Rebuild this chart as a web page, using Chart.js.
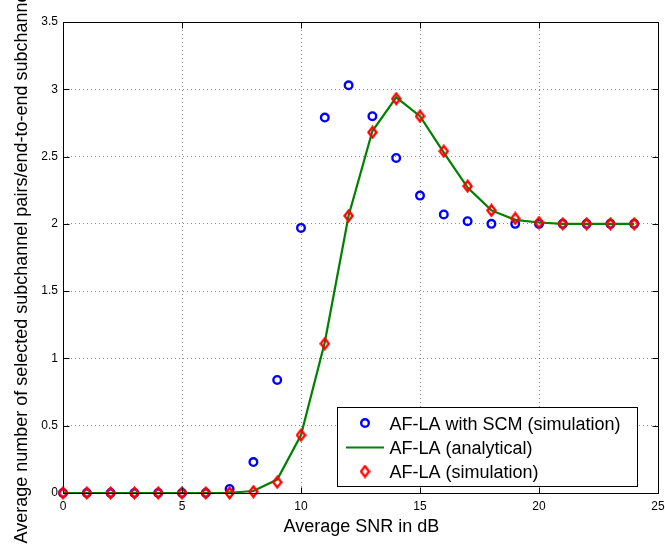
<!DOCTYPE html>
<html><head><meta charset="utf-8">
<script src="https://cdn.jsdelivr.net/npm/chart.js@4/dist/chart.umd.min.js"></script>
<style>html,body{margin:0;padding:0;background:#fff;} #wrap{width:665px;height:550px;position:relative;}</style>
</head><body><div id="wrap"><canvas id="c" width="665" height="550"></canvas></div>
<script>
// ---- data ----
const snrDb = [0,1,2,3,4,5,6,7,8,9,10,11,12,13,14,15,16,17,18,19,20,21,22,23,24];
const scmSim = [0,0,0,0,0,0,0,0.03,0.23,0.84,1.97,2.79,3.03,2.80,2.49,2.21,2.07,2.02,2.00,2.00,2.00,2.00,2.00,2.00,2.00];
const laAnalytical = [0,0,0,0,0,0,0,0.002,0.015,0.10,0.43,1.12,2.06,2.69,2.94,2.80,2.53,2.27,2.10,2.03,2.01,2.00,2.00,2.00,2.00];
const laSim = [0,0,0,0,0,0,0,0,0.01,0.08,0.43,1.11,2.06,2.68,2.93,2.80,2.54,2.28,2.10,2.04,2.01,2.00,2.00,2.00,2.00];
const xTickValues = [0,5,10,15,20,25];
const yTickValues = [0,0.5,1,1.5,2,2.5,3,3.5];
const xTitle = 'Average SNR in dB';
const yTitle = 'Average number of selected subchannel pairs/end-to-end subchannels';
const legendLabels = ['AF-LA with SCM (simulation)','AF-LA (analytical)','AF-LA (simulation)'];

const FONT = "'Liberation Sans', Arial, Helvetica, sans-serif";
const BLUE = '#0000ff', GREEN = '#008000', RED = '#ff0000';

function makeDiamond(w, h, lw, color) {
  const c = document.createElement('canvas');
  c.width = w; c.height = h;
  const g = c.getContext('2d');
  g.strokeStyle = color; g.lineWidth = lw; g.lineJoin = 'miter';
  g.beginPath();
  g.moveTo(w/2, lw*0.75);
  g.lineTo(w - lw*0.6, h/2);
  g.lineTo(w/2, h - lw*0.75);
  g.lineTo(lw*0.6, h/2);
  g.closePath();
  g.stroke();
  return c;
}
const diamond = makeDiamond(11, 14, 2.4, RED);

const toPts = arr => snrDb.map((x, i) => ({x: x, y: arr[i]}));

const framePlugin = {
  id: 'frame',
  afterDatasetsDraw(chart) {
    const ctx = chart.ctx;
    ctx.save();
    const lx = 337.5, ly = 407.5, lw = 300, lh = 79;
    ctx.fillStyle = '#fff';
    ctx.fillRect(lx, ly, lw, lh);
    ctx.strokeStyle = '#000'; ctx.lineWidth = 1;
    ctx.strokeRect(lx, ly, lw, lh);
    const mx = 365;
    ctx.beginPath();
    ctx.arc(mx, 423, 3.8, 0, Math.PI*2);
    ctx.strokeStyle = BLUE; ctx.lineWidth = 2.4; ctx.stroke();
    ctx.beginPath();
    ctx.moveTo(346, 447.5); ctx.lineTo(384, 447.5);
    ctx.strokeStyle = GREEN; ctx.lineWidth = 2.2; ctx.stroke();
    ctx.drawImage(diamond, mx - diamond.width/2, 471.5 - diamond.height/2);
    ctx.fillStyle = '#000';
    ctx.font = '18px ' + FONT;
    ctx.textBaseline = 'alphabetic';
    ctx.textAlign = 'left';
    ctx.fillText(legendLabels[0], 389.5, 430);
    ctx.fillText(legendLabels[1], 389.5, 454);
    ctx.fillText(legendLabels[2], 389.5, 478);
    ctx.restore();
  },
  afterDraw(chart) {
    const ctx = chart.ctx;
    const a = chart.chartArea;
    const xs = chart.scales.x, ys = chart.scales.y;
    ctx.save();
    ctx.strokeStyle = '#000'; ctx.lineWidth = 1;
    const L = Math.round(a.left) + 0.5, R = Math.round(a.right) + 0.5;
    const T = Math.round(a.top) + 0.5, B = Math.round(a.bottom) + 0.5;
    ctx.beginPath();
    ctx.rect(L, T, R - L, B - T);
    ctx.stroke();
    const tl = 6;
    ctx.beginPath();
    xTickValues.forEach(v => {
      const px = Math.round(xs.getPixelForValue(v)) + 0.5;
      ctx.moveTo(px, B); ctx.lineTo(px, B - tl);
      ctx.moveTo(px, T); ctx.lineTo(px, T + tl);
    });
    yTickValues.forEach(v => {
      const py = Math.round(ys.getPixelForValue(v)) + 0.5;
      ctx.moveTo(L, py); ctx.lineTo(L + tl, py);
      ctx.moveTo(R, py); ctx.lineTo(R - tl, py);
    });
    ctx.stroke();
    ctx.fillStyle = '#000';
    ctx.font = '18px ' + FONT;
    ctx.textAlign = 'center';
    ctx.textBaseline = 'alphabetic';
    ctx.fillText(xTitle, (a.left + a.right)/2 + 1, 531.5);
    ctx.translate(27, (a.top + a.bottom)/2 + 4);
    ctx.rotate(-Math.PI/2);
    ctx.fillText(yTitle, 0, 0);
    ctx.restore();
  }
};

new Chart(document.getElementById('c'), {
  type: 'scatter',
  data: {
    datasets: [
      {
        label: legendLabels[2], data: toPts(laSim), order: 1,
        showLine: false, pointStyle: diamond, pointRadius: 6, pointHoverRadius: 6,
        borderColor: RED, backgroundColor: 'transparent', clip: false
      },
      {
        label: legendLabels[1], data: toPts(laAnalytical), order: 2,
        showLine: true, borderColor: GREEN, borderWidth: 2.2, pointRadius: 0, pointHoverRadius: 0,
        backgroundColor: 'transparent', tension: 0, clip: false
      },
      {
        label: legendLabels[0], data: toPts(scmSim), order: 3,
        showLine: false, pointStyle: 'circle', pointRadius: 3.8, pointHoverRadius: 3.8,
        borderColor: BLUE, borderWidth: 2.4, backgroundColor: 'transparent', clip: false
      }
    ]
  },
  options: {
    responsive: false,
    animation: false,
    devicePixelRatio: 1,
    layout: { padding: { left: 0, right: 3, top: 22, bottom: 0 } },
    plugins: { legend: { display: false }, tooltip: { enabled: false } },
    events: [],
    scales: {
      x: {
        type: 'linear', min: 0, max: 25,
        afterBuildTicks: s => { s.ticks = xTickValues.map(v => ({value: v})); },
        afterFit: s => { s.height = 57; s.paddingLeft = 0; s.paddingRight = 0; },
        grid: { color: 'rgba(0,0,0,0.45)', lineWidth: 1, drawTicks: false },
        border: { display: false, dash: [1, 3] },
        ticks: { color: '#000', font: { family: FONT, size: 12 }, padding: 6, maxRotation: 0, autoSkip: false,
          callback: v => String(v) }
      },
      y: {
        type: 'linear', min: 0, max: 3.5,
        afterBuildTicks: s => { s.ticks = yTickValues.map(v => ({value: v})); },
        afterFit: s => { s.width = 63; s.paddingTop = 0; s.paddingBottom = 0; },
        grid: { color: 'rgba(0,0,0,0.45)', lineWidth: 1, drawTicks: false },
        border: { display: false, dash: [1, 3] },
        ticks: { color: '#000', font: { family: FONT, size: 12 }, padding: 5, autoSkip: false,
          callback: v => String(v) }
      }
    }
  },
  plugins: [framePlugin]
});
</script>
</body></html>
